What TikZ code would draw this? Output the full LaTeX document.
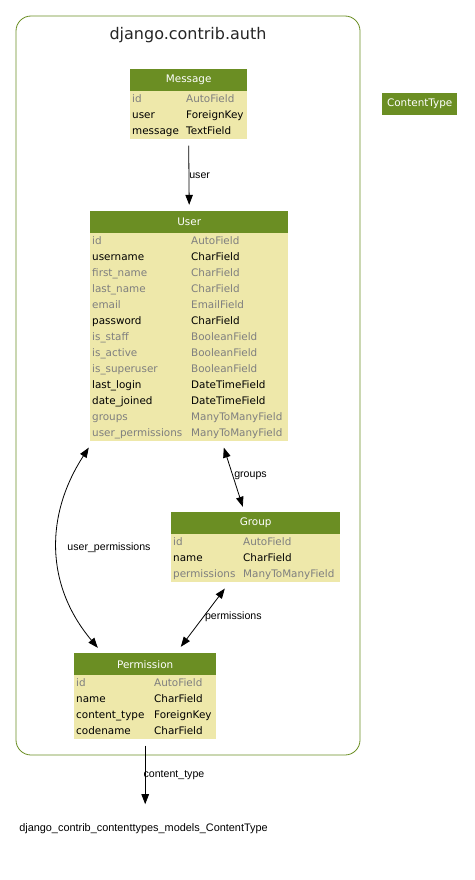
\documentclass[tikz,border=0pt]{standalone}
\usepackage{fontspec}
\usetikzlibrary{arrows.meta,calc,fit}
\newfontfamily\tabfont{DejaVu Sans}
\newfontfamily\lblfont{Liberation Sans}
\definecolor{hdrgreen}{HTML}{6B8E23}
\definecolor{rowbg}{HTML}{EEE8AA}
\definecolor{fieldgray}{HTML}{7F7F7F}
\tikzset{
  tblhead/.style={fill=hdrgreen, text=white, inner sep=0pt, minimum height=22bp,
    font=\tabfont\fontsize{10.4bp}{12bp}\selectfont},
  fieldtxt/.style={anchor=base west, inner sep=0pt,
    font=\tabfont\fontsize{10.4bp}{12bp}\selectfont},
  link/.style={line width=0.8bp, black},
  tip/.style={-{Triangle[length=10bp,width=7.5bp]}},
  bothtips/.style={{Triangle[length=10bp,width=7.5bp]}-{Triangle[length=10bp,width=7.5bp]}},
  lbl/.style={inner sep=0pt, font=\lblfont\fontsize{10.6bp}{12bp}\selectfont},
}
% #1 name, #2 left, #3 top, #4 width, #5 type column offset, #6 number of rows, #7 title, #8 rows
\newcommand\dbtable[8]{%
  \node[tblhead, minimum width=#4bp, anchor=north west] (#1-h) at (#2,#3) {#7};
  \coordinate (#1-end) at ($(#1-h.south west)+(#4,16*#6)$);
  \fill[rowbg] (#1-h.south west) rectangle (#1-end);
  \foreach \fname/\ftype/\fcol [count=\i] in {#8} {
    \node[fieldtxt, text=\fcol] (#1-f\i) at ($(#1-h.south west)+(2,16*\i-4.5)$) {\fname};
    \node[fieldtxt, text=\fcol] (#1-t\i) at ($(#1-h.south west)+(#5,16*\i-4.5)$) {\ftype};
  }
  \node[fit=(#1-h)(#1-end), inner sep=0pt] (#1) {};
}
\begin{document}
\begin{tikzpicture}[x=1bp, y=-1bp]
  \fill[white] (0,0) rectangle (475,880);
  \useasboundingbox (0,0) rectangle (475,880);

  % package cluster
  \draw[hdrgreen, line width=0.8bp, rounded corners=15bp] (16,16) rectangle (360,755);
  \node[font=\tabfont\fontsize{16bp}{18bp}\selectfont, text=black!85] (clustertitle) at (188,35) {django.contrib.auth};

  \dbtable{msg}{130}{69}{117}{56}{3}{Message}{%
    id/AutoField/fieldgray,
    user/ForeignKey/black,
    message/TextField/black}

  \dbtable{user}{90}{211}{198}{101}{13}{User}{%
    id/AutoField/fieldgray,
    username/CharField/black,
    first\_name/CharField/fieldgray,
    last\_name/CharField/fieldgray,
    email/EmailField/fieldgray,
    password/CharField/black,
    is\_staff/BooleanField/fieldgray,
    is\_active/BooleanField/fieldgray,
    is\_superuser/BooleanField/fieldgray,
    last\_login/DateTimeField/black,
    date\_joined/DateTimeField/black,
    groups/ManyToManyField/fieldgray,
    user\_permissions/ManyToManyField/fieldgray}

  \dbtable{group}{171}{512}{169}{72}{3}{Group}{%
    id/AutoField/fieldgray,
    name/CharField/black,
    permissions/ManyToManyField/fieldgray}

  \dbtable{perm}{74}{653}{142}{80}{4}{Permission}{%
    id/AutoField/fieldgray,
    name/CharField/black,
    content\_type/ForeignKey/black,
    codename/CharField/black}

  % content type model outside the cluster
  \node[tblhead, minimum width=75bp, anchor=north west] (ctype) at (382,93) {ContentType};
  \node[lbl, font=\lblfont\fontsize{10.9bp}{12bp}\selectfont] (ctext) at (143.5,829)
    {django\_contrib\_contenttypes\_models\_ContentType};

  % relations
  \draw[link, tip] ([yshift=-6bp]msg.south) -- ([yshift=6bp]user.north)
    node[lbl, pos=0.5, anchor=west] (lbluser) {user};
  \draw[link, bothtips] ($(user.south west)+(134,6)$) -- ($(group.north west)+(72,-5)$)
    node[lbl, pos=0.48, anchor=west, xshift=1bp] (lblgroups) {groups};
  \draw[link, bothtips] ($(user.south west)+(-1,6)$)
    .. controls (45,515) and (45,585) .. ($(perm.north west)+(24,-5)$);
  \node[lbl] (lbluperm) at (109,548) {user\_permissions};
  \draw[link, bothtips] ($(group.south west)+(54,6)$) -- ($(perm.north west)+(107,-6)$)
    node[lbl, pos=0.48, anchor=west, xshift=1bp] (lblperms) {permissions};
  \draw[link, tip] ([yshift=-6bp]perm.south) -- ([yshift=19.5bp]ctext.north -| perm.south)
    node[lbl, pos=0.5, anchor=west, xshift=-2bp] (lblctype) {content\_type};
\end{tikzpicture}
\end{document}
